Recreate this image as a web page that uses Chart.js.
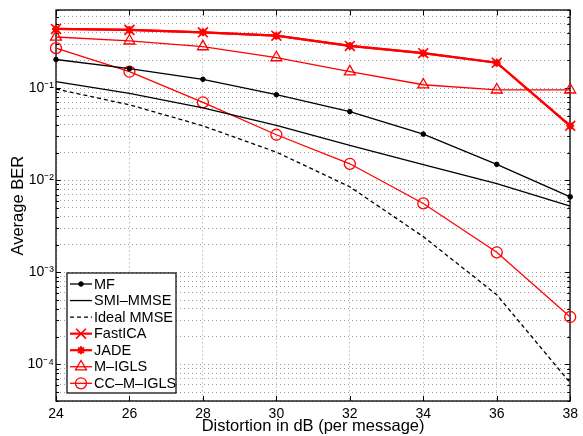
<!DOCTYPE html>
<html lang="en">
<head>
<meta charset="UTF-8" />
<title>Average BER vs distortion</title>
<style>
    body {
        margin: 0;
        background: #fff;
    }

    #wrap {
        width: 583px;
        height: 436px;
    }
</style>
<script src="https://cdn.jsdelivr.net/npm/chart.js"></script>
</head>
<body>
<div id="wrap"><canvas id="berChart" width="583" height="436"></canvas></div>

<script>
    // values (log y axis)
    const distortion = [24, 26, 28, 30, 32, 34, 36, 38];
    const mf = [0.205, 0.163, 0.125, 0.085, 0.0557, 0.0317, 0.0149, 0.0066];
    const smiMmse = [0.118, 0.088, 0.061, 0.0394, 0.0239, 0.0148, 0.0092, 0.00524];
    const idealMmse = [0.098, 0.066, 0.039, 0.0202, 0.0085, 0.00244, 0.00057, 0.000063];
    const fastIca = [0.44, 0.43, 0.405, 0.372, 0.288, 0.24, 0.189, 0.039];
    const jade = [0.44, 0.43, 0.405, 0.372, 0.288, 0.24, 0.189, 0.039];
    const mIgls = [0.36, 0.327, 0.283, 0.215, 0.151, 0.109, 0.096, 0.096];
    const ccMIgls = [0.272, 0.151, 0.0703, 0.0312, 0.0151, 0.0056, 0.00165, 0.000327];

    const yDecades = [1e-5, 1e-4, 1e-3, 1e-2, 1e-1];
    const yDecadeLabels = ["10⁻⁵", "10⁻⁴", "10⁻³", "10⁻²", "10⁻¹"];

    const RED = "#ff0000";
    const BLACK = "#000000";
    const FONT = "'Liberation Sans', Arial, Helvetica, sans-serif";

    Chart.defaults.font.family = FONT;
    Chart.defaults.color = "#000";

    function series(label, data, style) {
        return Object.assign({
            label: label,
            data: distortion.map((x, i) => ({ x: x, y: data[i] })),
            fill: false,
            tension: 0,
            clip: false,
            pointRadius: 0,
            pointHoverRadius: 0,
            pointBorderWidth: 1,
        }, style);
    }

    const datasets = [
        series("MF", mf, {
            borderColor: BLACK, borderWidth: 1.3,
            pointStyle: "circle", pointRadius: 2.3,
            pointBackgroundColor: BLACK, pointBorderColor: BLACK,
        }),
        series("SMI–MMSE", smiMmse, { borderColor: BLACK, borderWidth: 1.3 }),
        series("Ideal MMSE", idealMmse, { borderColor: BLACK, borderWidth: 1.3, borderDash: [4, 3] }),
        series("FastICA", fastIca, {
            borderColor: RED, borderWidth: 2.2,
            pointStyle: "crossRot", pointRadius: 7, pointBorderWidth: 1.6,
            pointBackgroundColor: RED, pointBorderColor: RED,
        }),
        series("JADE", jade, {
            borderColor: RED, borderWidth: 2.2,
            pointStyle: "star", pointRadius: 4, pointBorderWidth: 2,
            pointBackgroundColor: RED, pointBorderColor: RED,
        }),
        series("M–IGLS", mIgls, {
            borderColor: RED, borderWidth: 1.3,
            pointStyle: "triangle", pointRadius: 6.3, pointBorderWidth: 1.3,
            pointBackgroundColor: "rgba(0,0,0,0)", pointBorderColor: RED,
        }),
        series("CC–M–IGLS", ccMIgls, {
            borderColor: RED, borderWidth: 1.3,
            pointStyle: "circle", pointRadius: 5.5, pointBorderWidth: 1.3,
            pointBackgroundColor: "rgba(0,0,0,0)", pointBorderColor: RED,
        }),
    ];

    // box around the axes with inward tick marks, matlab style
    const axesFrame = {
        id: "axesFrame",
        beforeDatasetsDraw(chart) {
            const { ctx, chartArea: a, scales } = chart;
            ctx.save();
            ctx.strokeStyle = "#000";
            ctx.lineWidth = 1;
            ctx.setLineDash([]);
            ctx.beginPath();
            scales.x.ticks.forEach((t) => {
                const px = Math.round(scales.x.getPixelForValue(t.value)) + 0.5;
                ctx.moveTo(px, a.bottom); ctx.lineTo(px, a.bottom - 5);
                ctx.moveTo(px, a.top); ctx.lineTo(px, a.top + 5);
            });
            scales.y.ticks.forEach((t) => {
                const py = Math.round(scales.y.getPixelForValue(t.value)) + 0.5;
                const len = yDecades.some((d) => Math.abs(d - t.value) / d < 1e-6) ? 5 : 3;
                ctx.moveTo(a.left, py); ctx.lineTo(a.left + len, py);
                ctx.moveTo(a.right, py); ctx.lineTo(a.right - len, py);
            });
            ctx.stroke();
            ctx.lineWidth = 1.3;
            ctx.strokeRect(Math.round(a.left), Math.round(a.top), Math.round(a.right - a.left), Math.round(a.bottom - a.top));
            ctx.restore();
        },
    };

    // legend drawn inside the lower-left corner of the plot
    const boxLegend = {
        id: "boxLegend",
        afterDraw(chart) {
            const { ctx, chartArea: a } = chart;
            const left = a.left + 11;
            const bottom = a.bottom - 8;
            const w = 109, h = 120, rowH = 16.55;
            const top = bottom - h;
            ctx.save();
            ctx.fillStyle = "#fff";
            ctx.fillRect(left, top, w, h);
            ctx.strokeStyle = "#000";
            ctx.lineWidth = 1.2;
            ctx.strokeRect(left, top, w, h);

            chart.data.datasets.forEach((ds, i) => {
                const cy = top + 11 + i * rowH;
                ctx.setLineDash(ds.borderDash || []);
                ctx.strokeStyle = ds.borderColor;
                ctx.lineWidth = ds.borderWidth;
                ctx.beginPath();
                ctx.moveTo(left + 3, cy);
                ctx.lineTo(left + 25, cy);
                ctx.stroke();
                ctx.setLineDash([]);
                if (ds.pointRadius > 0) {
                    ctx.fillStyle = ds.pointBackgroundColor;
                    ctx.strokeStyle = ds.pointBorderColor;
                    ctx.lineWidth = ds.pointBorderWidth;
                    Chart.helpers.drawPoint(ctx, {
                        pointStyle: ds.pointStyle,
                        radius: ds.pointRadius,
                        borderWidth: ds.pointBorderWidth,
                        rotation: 0,
                    }, left + 14, cy);
                }
                ctx.fillStyle = "#000";
                ctx.font = "14.5px " + FONT;
                ctx.textAlign = "left";
                ctx.textBaseline = "middle";
                ctx.fillText(ds.label, left + 27, cy + 0.5);
            });
            ctx.restore();
        },
    };

    new Chart(document.getElementById("berChart").getContext("2d"), {
        type: "line",
        data: { datasets: datasets },
        plugins: [axesFrame, boxLegend],
        options: {
            responsive: false,
            animation: false,
            devicePixelRatio: 1,
            layout: { padding: { top: 10, right: 7, left: 0, bottom: 0 } },
            plugins: {
                legend: { display: false },
                tooltip: { enabled: false },
            },
            scales: {
                x: {
                    type: "linear",
                    min: 24,
                    max: 38,
                    ticks: { stepSize: 2, font: { size: 14 }, padding: 5 },
                    grid: { color: "rgba(0,0,0,0.38)", lineWidth: 1, drawTicks: false },
                    border: { display: false, dash: [1, 3] },
                    title: {
                        display: true,
                        text: "Distortion in dB (per message)",
                        font: { size: 16.5 },
                        padding: { top: 0, bottom: 0 },
                    },
                    afterFit(scale) { scale.height = 35; },
                },
                y: {
                    type: "logarithmic",
                    min: 4e-5,
                    max: 0.7,
                    afterBuildTicks(scale) {
                        const ticks = [];
                        yDecades.forEach((d) => {
                            for (let m = 1; m <= 9; m++) {
                                const v = m * d;
                                if (v >= 4e-5 * 0.999 && v <= 0.7 * 1.001) ticks.push({ value: v });
                            }
                        });
                        scale.ticks = ticks;
                    },
                    ticks: {
                        autoSkip: false,
                        font: { size: 14 },
                        padding: 2,
                        callback(value) {
                            const i = yDecades.findIndex((d) => Math.abs(d - value) / d < 1e-6);
                            return i >= 0 ? yDecadeLabels[i] : "";
                        },
                    },
                    grid: { color: "rgba(0,0,0,0.38)", lineWidth: 1, drawTicks: false },
                    border: { display: false, dash: [1, 3] },
                    title: {
                        display: true,
                        text: "Average BER",
                        font: { size: 16.5 },
                        padding: { top: 9, bottom: 0 },
                    },
                    afterFit(scale) { scale.width = 56; },
                },
            },
        },
    });
</script>
</body>
</html>
